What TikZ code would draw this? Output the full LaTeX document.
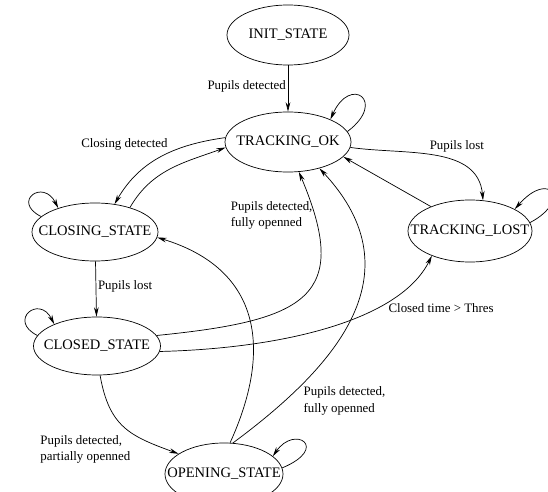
\documentclass[tikz,border=0pt]{standalone}
\usepackage{fontspec}
\setmainfont{Liberation Serif}
\usetikzlibrary{shapes.geometric, arrows.meta}

\begin{document}
\begin{tikzpicture}[x=0.03cm, y=0.03cm,
    state/.style={draw, ellipse, line width=0.6pt, inner xsep=-0.5cm, inner ysep=0pt,
      minimum height=1.8cm, font=\fontsize{12.4}{14}\selectfont},
    trans/.style={-{Stealth[length=8pt, width=4pt]}, line width=0.6pt},
    lbl/.style={font=\fontsize{11}{14}\selectfont, align=left, inner sep=1.5pt}]
    % 邊界
    \useasboundingbox (0,0) rectangle (548,491);
    \clip (0,0) rectangle (548,491);

    % 狀態
    \node[state, minimum width=3.66cm] (init) at (288,456) {INIT\_STATE};
    \node[state, minimum width=3.78cm] (ok) at (288,349) {TRACKING\_OK};
    \node[state, minimum width=3.78cm, minimum height=1.74cm] (closing) at (95,259) {CLOSING\_STATE};
    \node[state, minimum width=3.72cm, minimum height=1.86cm] (lost) at (470,260) {TRACKING\_LOST};
    \node[state, minimum width=3.81cm, minimum height=1.74cm] (closed) at (97,145) {CLOSED\_STATE};
    \node[state, minimum width=3.54cm, minimum height=1.86cm] (opening) at (224,17) {OPENING\_STATE};

    % 轉移
    \draw[trans] (init) -- (ok) node[lbl, pos=0.45, left] {Pupils detected};
    \draw[trans] (ok.176) to[out=188, in=60] node[lbl, pos=0.42, above left] {Closing detected} (closing.55);
    \draw[trans] (closing.35) to[out=60, in=200] (ok.185);
    \draw[trans] (ok.-5) to[out=-8, in=95] node[lbl, pos=0.45, above right] {Pupils lost} (lost.67);
    \draw[trans] (lost.148) -- (ok.-15);
    \draw[trans] (closing) -- (closed) node[lbl, pos=0.45, right] {Pupils lost};
    \draw[trans] (closed.10) .. controls +(150,15) and +(53,-125) .. (ok.-70)
      node[lbl, pos=0.87, left] {Pupils detected,\\fully openned};
    \draw[trans] (closed.-5) .. controls +(122,3) and +(-32,-65) .. (lost.213)
      node[lbl, pos=0.72, below right] {Closed time > Thres};
    \draw[trans] (closed.-84) to[out=-80, in=160, looseness=1.2]
      node[lbl, pos=0.6, below left] {Pupils detected,\\partially openned} (opening.156);
    \draw[trans] (opening.79) .. controls +(42,92) and +(105,-32) .. (closing.-5);
    \draw[trans] (opening.74) .. controls +(97,72) and +(101,-108) .. (ok.-40)
      node[lbl, pos=0.25, below right] {Pupils detected,\\fully openned};

    % 自迴圈
    \draw[trans] (ok.10) .. controls +(40,30) and +(20,45) .. (ok.28);
    \draw[trans] (lost.8) .. controls +(42,22) and +(35,40) .. (lost.26);
    \draw[trans] (closing.164) .. controls +(-30,15) and +(-15,30) .. (closing.147);
    \draw[trans] (closed.170) .. controls +(-30,15) and +(-15,30) .. (closed.153);
    \draw[trans] (opening.6) .. controls +(48,20) and +(22,32) .. (opening.20);
\end{tikzpicture}
\end{document}
